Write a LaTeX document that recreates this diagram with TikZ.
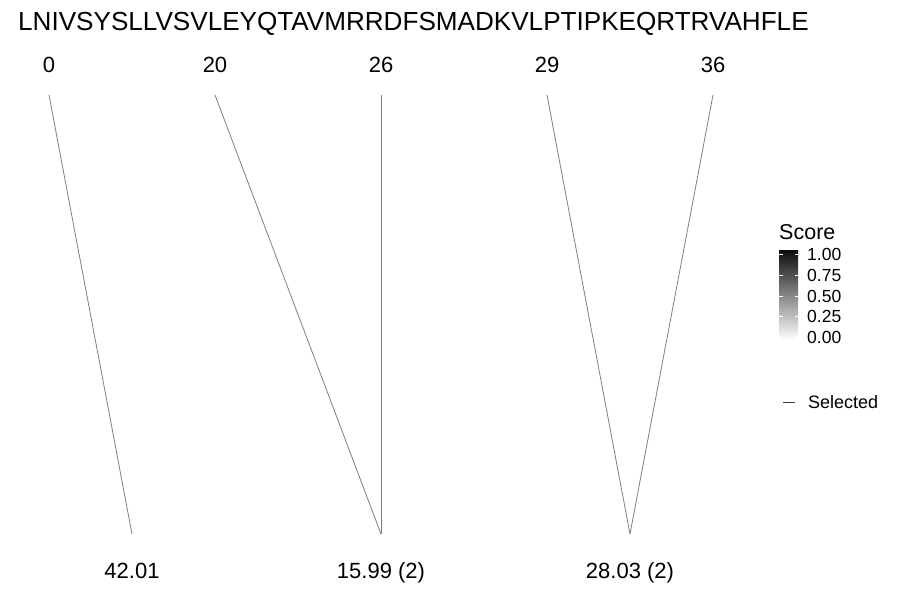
\documentclass[tikz,border=0pt]{standalone}
\usepackage{fontspec}
\setmainfont{Liberation Sans}
\begin{document}
\begin{tikzpicture}[x=1pt,y=-1pt,
  lbl/.style={inner sep=0pt,anchor=base,font=\fontsize{22}{24}\selectfont},
  tick/.style={inner sep=0pt,anchor=west,font=\fontsize{17.5}{19}\selectfont},
  link/.style={draw=black!50,line width=0.8pt}]
\useasboundingbox[fill=white] (0,0) rectangle (900,600);
\node[inner sep=0pt,anchor=base west,font=\fontsize{26.1}{28}\selectfont] (seq) at (18,30) {LNIVSYSLLVSVLEYQTAVMRRDFSMADKVLPTIPKEQRTRVAHFLE};
\node[lbl] (t0) at (49,72) {0};
\node[lbl] (t20) at (215,72) {20};
\node[lbl] (t26) at (381,72) {26};
\node[lbl] (t29) at (547,72) {29};
\node[lbl] (t36) at (713,72) {36};
\coordinate (a0) at (49,95);
\coordinate (a20) at (215,95);
\coordinate (a26) at (381,95);
\coordinate (a29) at (547,95);
\coordinate (a36) at (713,95);
\coordinate (b1) at (132,534);
\coordinate (b2) at (381,534);
\coordinate (b3) at (630,534);
\draw[link] (a0) -- (b1);
\draw[link] (a20) -- (b2);
\draw[link] (a26) -- (b2);
\draw[link] (a29) -- (b3);
\draw[link] (a36) -- (b3);
\node[lbl] (l1) at (132,578) {42.01};
\node[lbl] (l2) at (381,578) {15.99 (2)};
\node[lbl] (l3) at (630,578) {28.03 (2)};
% legend
\node[inner sep=0pt,anchor=west,font=\fontsize{21.5}{23}\selectfont] (score) at (779,232) {Score};
\shade[top color=black!95,bottom color=white] (779,250) rectangle (798,340);
\foreach \yy in {254,275,296,316,337}{
  \draw[white,line width=0.5pt] (779,\yy) -- (782.5,\yy);
  \draw[white,line width=0.5pt] (794.5,\yy) -- (798,\yy);
}
\node[tick] (k100) at (807,254) {1.00};
\node[tick] (k075) at (807,275) {0.75};
\node[tick] (k050) at (807,296) {0.50};
\node[tick] (k025) at (807,316) {0.25};
\node[tick] (k000) at (807,337) {0.00};
\coordinate (s1) at (783,402);
\coordinate (s2) at (795,402);
\draw[draw=black!75,line width=1pt] (s1) -- (s2);
\node[tick,font=\fontsize{18}{20}\selectfont] (sel) at (808,402) {Selected};
\end{tikzpicture}
\end{document}
